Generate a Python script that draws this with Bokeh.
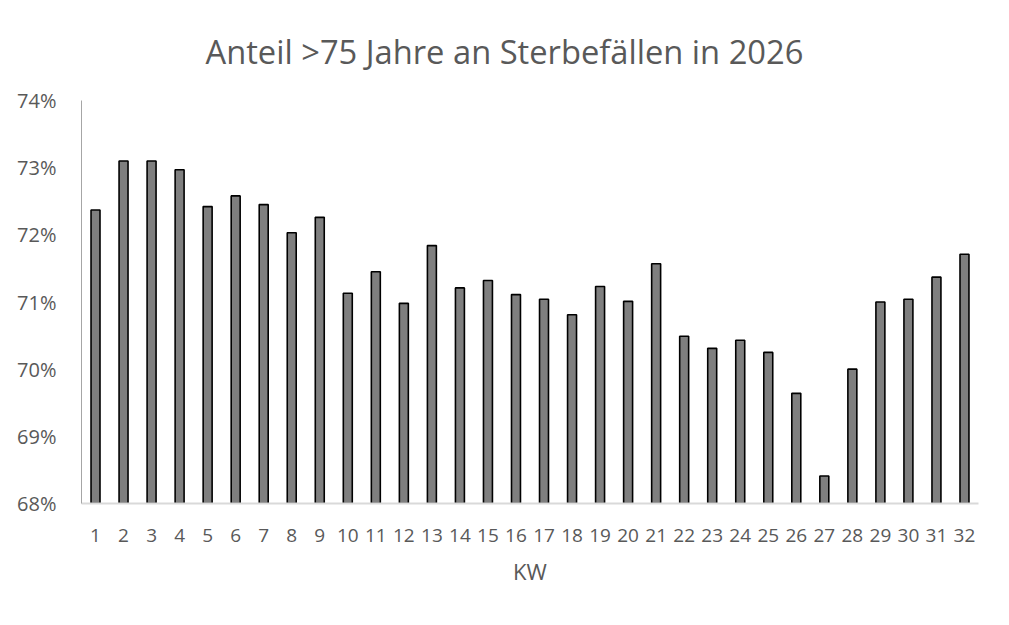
from bokeh.plotting import figure
from bokeh.models import FixedTicker, PrintfTickFormatter, Range1d, FactorRange
from bokeh.embed import file_html
from bokeh.resources import INLINE

weeks = [str(i) for i in range(1, 33)]
share = [72.37, 73.10, 73.10, 72.97, 72.42, 72.58, 72.45, 72.03, 72.26,
         71.13, 71.45, 70.98, 71.84, 71.21, 71.32, 71.11, 71.04, 70.81,
         71.23, 71.01, 71.57, 70.49, 70.31, 70.43, 70.25, 69.64, 68.41,
         70.00, 71.00, 71.04, 71.37, 71.71]
y_ticks = [68, 69, 70, 71, 72, 73, 74]

TXT = "#595959"
FONT = "Open Sans"

p = figure(width=993, height=609, output_backend="svg", toolbar_location=None,
           x_range=FactorRange(factors=weeks, range_padding=0),
           y_range=Range1d(68, 74),
           title="Anteil >75 Jahre an Sterbefällen in 2026",
           min_border_left=81, min_border_right=15,
           min_border_top=100, min_border_bottom=106)

p.vbar(x=weeks, top=share, bottom=68, width=0.32,
       fill_color="#7f7f7f", line_color="black", line_width=1.6)

p.title.align = "left"
p.title.offset = 124
p.title.standoff = 53
p.title.text_font = FONT
p.title.text_font_size = "32.7px"
p.title.text_font_style = "normal"
p.title.text_color = TXT

p.grid.visible = False
p.outline_line_color = None
p.background_fill_color = "white"
p.border_fill_color = "white"

p.yaxis.ticker = FixedTicker(ticks=y_ticks)
p.yaxis.formatter = PrintfTickFormatter(format="%d%%")
p.yaxis.major_tick_line_color = None
p.yaxis.minor_tick_line_color = None
p.yaxis.axis_line_color = "#a6a6a6"
p.yaxis.axis_line_width = 1
p.yaxis.major_label_standoff = 19
p.yaxis.major_label_text_font = FONT
p.yaxis.major_label_text_font_size = "20px"
p.yaxis.major_label_text_color = TXT

p.xaxis.major_tick_line_color = None
p.xaxis.minor_tick_line_color = None
p.xaxis.axis_line_color = "#d9d9d9"
p.xaxis.axis_line_width = 2
p.xaxis.major_label_standoff = 19
p.xaxis.major_label_text_font = FONT
p.xaxis.major_label_text_font_size = "19px"
p.xaxis.major_label_text_color = TXT
p.xaxis.axis_label = "KW"
p.xaxis.axis_label_standoff = 11
p.xaxis.axis_label_text_font = FONT
p.xaxis.axis_label_text_font_size = "22px"
p.xaxis.axis_label_text_font_style = "normal"
p.xaxis.axis_label_text_color = TXT

open("out.html", "w").write(file_html(p, INLINE))
